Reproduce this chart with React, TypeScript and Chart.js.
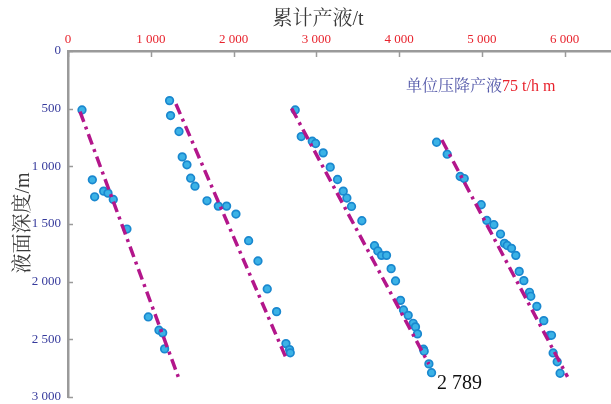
import React, { useEffect, useRef } from "react";
import { Chart, registerables } from "chart.js";

Chart.register(...registerables);

// Group 1
const g1X = [169, 294, 322, 431, 483, 547, 712, 970, 1099, 1144, 1167];
const g1Y = [511, 1117, 1264, 1215, 1232, 1287, 1544, 2306, 2421, 2444, 2583];
// Group 2
const g2X = [1227, 1239, 1341, 1380, 1437, 1482, 1534, 1679, 1816, 1916, 2029, 2182, 2295, 2407, 2520, 2633, 2677, 2685];
const g2Y = [430, 560, 698, 918, 987, 1103, 1172, 1299, 1345, 1345, 1414, 1645, 1821, 2063, 2260, 2537, 2589, 2617];
// Group 3
const g3X = [2745, 2818, 2951, 2991, 3083, 3168, 3256, 3325, 3369, 3425, 3550, 3703, 3743, 3788, 3848, 3904, 3957, 4017, 4053, 4110, 4170, 4198, 4222, 4295, 4303, 4360, 4392];
const g3Y = [511, 742, 782, 802, 883, 1007, 1114, 1215, 1275, 1348, 1472, 1688, 1734, 1772, 1772, 1887, 1994, 2162, 2245, 2292, 2361, 2392, 2453, 2586, 2603, 2713, 2789];
// Group 4
const g4X = [4453, 4581, 4738, 4787, 4992, 5060, 5145, 5225, 5273, 5306, 5358, 5410, 5451, 5507, 5575, 5591, 5664, 5748, 5821, 5841, 5861, 5910, 5945];
const g4Y = [791, 895, 1088, 1106, 1333, 1469, 1506, 1587, 1668, 1686, 1711, 1772, 1911, 1991, 2092, 2127, 2214, 2338, 2465, 2465, 2618, 2695, 2794];

// Fitted trend lines: [start, end]
const fit1X = [145, 1332];
const fit1Y = [526, 2825];
const fit2X = [1304, 2649];
const fit2Y = [460, 2686];
const fit3X = [2701, 4360];
const fit3Y = [497, 2715];
const fit4X = [4517, 6035];
const fit4Y = [772, 2825];

const xTicks = [0, 1000, 2000, 3000, 4000, 5000, 6000];
const yTicks = [0, 500, 1000, 1500, 2000, 2500, 3000];

const xTitle = "累计产液/t";
const yTitle = "液面深度/m";
const noteBlue = "单位压降产液";
const noteRed = "75 t/h m";
const endLabel = "2 789";

const SERIF = "'Liberation Serif', 'Times New Roman', 'Noto Serif CJK SC', 'Noto Sans CJK SC', serif";

const fmt = (v: number) =>
  v >= 1000 ? `${Math.floor(v / 1000)} ${String(v % 1000).padStart(3, "0")}` : String(v);

const zip = (xs: number[], ys: number[]) => xs.map((x, i) => ({ x, y: ys[i] }));

const LINE_COLOR = "#b3168b";
const PT_FILL = "#3bb2e6";
const PT_BORDER = "#1a88cf";
const AXIS_COLOR = "#9a9a9a";

const overlayPlugin = {
  id: "overlay",
  afterDraw(chart: any) {
    const { ctx, chartArea, scales } = chart;
    const xs = scales.x;
    const ys = scales.y;
    ctx.save();
    // inward tick marks
    ctx.strokeStyle = AXIS_COLOR;
    ctx.lineWidth = 1.5;
    xTicks.forEach((v) => {
      const px = Math.round(xs.getPixelForValue(v)) + 0.5;
      ctx.beginPath();
      ctx.moveTo(px, chartArea.top);
      ctx.lineTo(px, chartArea.top + 6);
      ctx.stroke();
    });
    yTicks.forEach((v) => {
      const py = Math.round(ys.getPixelForValue(v)) + 0.5;
      ctx.beginPath();
      ctx.moveTo(chartArea.left, py);
      ctx.lineTo(chartArea.left + 5, py);
      ctx.stroke();
    });

    // x title
    ctx.fillStyle = "#3a3a3a";
    ctx.font = `20px ${SERIF}`;
    ctx.textAlign = "center";
    ctx.textBaseline = "middle";
    ctx.fillText(xTitle, 318, 20);

    // y title
    ctx.save();
    ctx.translate(24, 223);
    ctx.rotate(-Math.PI / 2);
    ctx.fillText(yTitle, 0, 0);
    ctx.restore();

    // annotation
    ctx.font = `16px ${SERIF}`;
    ctx.textAlign = "left";
    ctx.fillStyle = "#5257a8";
    const ax = 406;
    const ay = 87;
    ctx.fillText(noteBlue, ax, ay);
    const w = ctx.measureText(noteBlue).width;
    ctx.fillStyle = "#e8232d";
    ctx.fillText(noteRed, ax + w, ay);

    // end label
    ctx.fillStyle = "#111";
    ctx.font = `20px ${SERIF}`;
    ctx.fillText(endLabel, 437, 384);
    ctx.restore();
  },
};

export default function App() {
  const ref = useRef<HTMLCanvasElement>(null);

  useEffect(() => {
    document.body.style.margin = "0";
    const canvas = ref.current;
    if (!canvas) return;

    const pointDs = (xs: number[], ys: number[]) => ({
      type: "scatter" as const,
      data: zip(xs, ys),
      pointRadius: 3.8,
      pointBackgroundColor: PT_FILL,
      pointBorderColor: PT_BORDER,
      pointBorderWidth: 1.7,
      showLine: false,
    });
    const lineDs = (xs: number[], ys: number[]) => ({
      type: "line" as const,
      data: zip(xs, ys),
      borderColor: LINE_COLOR,
      borderWidth: 3.5,
      borderDash: [11, 5, 3, 5],
      borderCapStyle: "butt",
      pointRadius: 0,
      showLine: true,
      fill: false,
      tension: 0,
    });

    const chart = new Chart(canvas, {
      type: "scatter",
      data: {
        datasets: [
          lineDs(fit1X, fit1Y),
          lineDs(fit2X, fit2Y),
          lineDs(fit3X, fit3Y),
          lineDs(fit4X, fit4Y),
          pointDs(g1X, g1Y),
          pointDs(g2X, g2Y),
          pointDs(g3X, g3Y),
          pointDs(g4X, g4Y),
        ] as any,
      },
      options: {
        animation: false,
        responsive: false,
        layout: { autoPadding: false, padding: { left: 0, right: 0, top: 0, bottom: 7 } },
        plugins: {
          legend: { display: false },
          tooltip: { enabled: false },
        },
        scales: {
          x: {
            type: "linear",
            position: "top",
            min: 0,
            max: 6560,
            grid: { display: false, drawTicks: false },
            border: { display: true, color: AXIS_COLOR, width: 2.5 },
            afterBuildTicks: (scale: any) => {
              scale.ticks = xTicks.map((v) => ({ value: v }));
            },
            afterFit: (scale: any) => {
              scale.height = 51;
              scale.paddingLeft = 0;
              scale.paddingRight = 0;
            },
            ticks: {
              color: "#e8232d",
              font: { family: SERIF, size: 13 },
              padding: 4,
              maxRotation: 0,
              callback: (v: any) => fmt(Number(v)),
            },
          },
          y: {
            type: "linear",
            position: "left",
            reverse: true,
            min: 0,
            max: 3000,
            grid: { display: false, drawTicks: false },
            border: { display: true, color: AXIS_COLOR, width: 2.5 },
            afterBuildTicks: (scale: any) => {
              scale.ticks = yTicks.map((v) => ({ value: v }));
            },
            afterFit: (scale: any) => {
              scale.width = 68;
              scale.paddingTop = 0;
              scale.paddingBottom = 0;
            },
            ticks: {
              color: "#363a9c",
              font: { family: SERIF, size: 13 },
              padding: 7,
              callback: (v: any) => fmt(Number(v)),
            },
          },
        },
      } as any,
      plugins: [overlayPlugin],
    });

    return () => chart.destroy();
  }, []);

  return (
    <canvas
      ref={ref}
      width={611}
      height={404}
      style={{ position: "absolute", left: 0, top: 0, width: 611, height: 404, background: "#fff" }}
    />
  );
}
